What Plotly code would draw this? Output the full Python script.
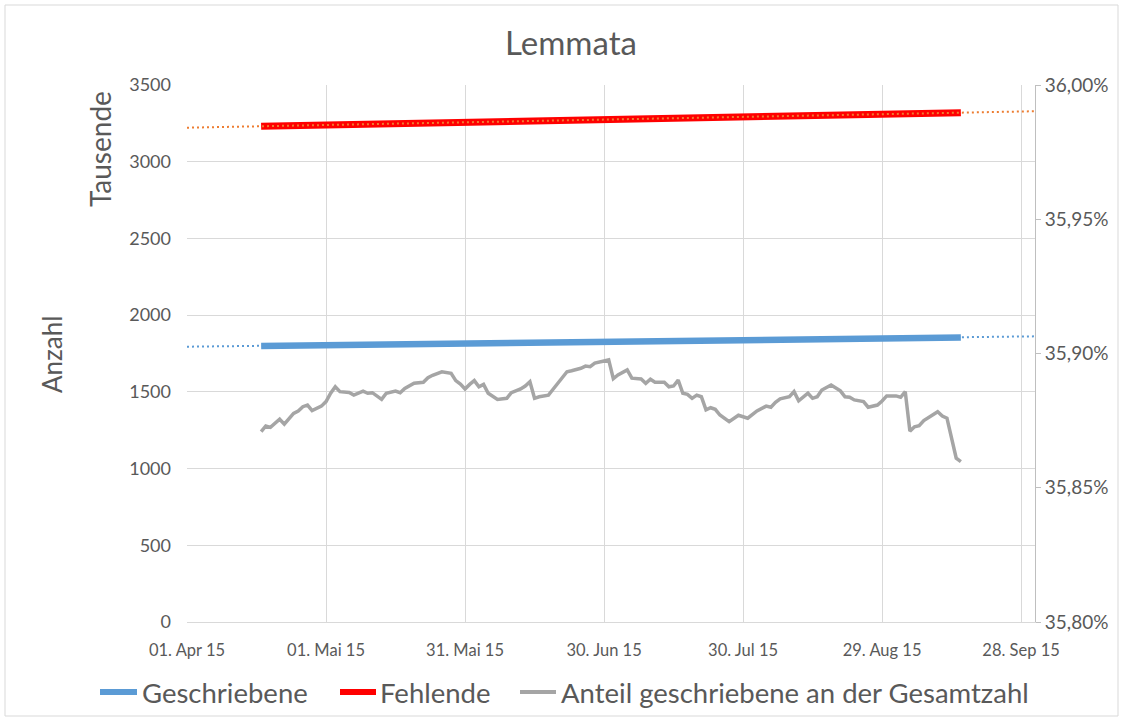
import numpy as np
import pandas as pd
import plotly.graph_objects as go

BASE = "2015-04-01"

# Geschriebene / Fehlende (Anzahl, in Tausend), day offsets from 01 Apr 2015
count_days = [16, 30, 45, 60, 75, 90, 105, 120, 135, 150, 167]
geschriebene = [1799, 1805, 1811, 1817, 1822, 1828, 1834, 1840, 1845, 1849, 1854]
fehlende = [3231, 3239, 3248, 3257, 3266, 3275, 3284, 3292, 3301, 3310, 3319]

# Anteil geschriebene an der Gesamtzahl (%)
anteil_days = [16, 17, 18, 19, 20, 21, 22, 23, 24, 25, 26, 27, 29, 30, 31, 32, 33, 35, 36, 38,
               39, 40, 42, 43, 45, 46, 47, 49, 51, 52, 53, 54, 55, 57, 58, 59, 60, 61, 62, 63,
               64, 65, 66, 67, 69, 70, 72, 73, 74, 75, 76, 78, 79, 80, 82, 83, 85, 86, 87, 88,
               90, 91, 92, 93, 95, 96, 98, 99, 100, 101, 103, 104, 105, 106, 107, 108, 109, 110,
               111, 112, 113, 114, 115, 117, 119, 120, 121, 123, 125, 126, 127, 128, 130, 131,
               132, 134, 135, 136, 137, 139, 140, 141, 142, 143, 144, 146, 147, 149, 150, 151,
               153, 154, 155, 156, 157, 158, 159, 160, 162, 163, 164, 166, 167]
anteil = [35.8709, 35.8730, 35.8725, 35.8742, 35.8755, 35.8737, 35.8759, 35.8777, 35.8786, 35.8802,
          35.8808, 35.8787, 35.8804, 35.8821, 35.8852, 35.8876, 35.8858, 35.8855, 35.8845, 35.8860,
          35.8852, 35.8854, 35.8829, 35.8852, 35.8860, 35.8854, 35.8870, 35.8889, 35.8893, 35.8910,
          35.8919, 35.8926, 35.8932, 35.8926, 35.8899, 35.8886, 35.8868, 35.8885, 35.8899, 35.8876,
          35.8885, 35.8852, 35.8839, 35.8829, 35.8833, 35.8854, 35.8868, 35.8879, 35.8895, 35.8833,
          35.8839, 35.8845, 35.8867, 35.8889, 35.8932, 35.8936, 35.8945, 35.8953, 35.8951, 35.8964,
          35.8972, 35.8976, 35.8906, 35.8920, 35.8939, 35.8908, 35.8905, 35.8889, 35.8904, 35.8893,
          35.8893, 35.8876, 35.8879, 35.8901, 35.8852, 35.8848, 35.8833, 35.8845, 35.8839, 35.8790,
          35.8798, 35.8792, 35.8771, 35.8746, 35.8770, 35.8765, 35.8759, 35.8786, 35.8804, 35.8800,
          35.8818, 35.8831, 35.8839, 35.8858, 35.8824, 35.8852, 35.8833, 35.8839, 35.8864, 35.8883,
          35.8870, 35.8861, 35.8839, 35.8837, 35.8827, 35.8821, 35.8800, 35.8808, 35.8823, 35.8842,
          35.8842, 35.8837, 35.8858, 35.8711, 35.8727, 35.8731, 35.8750, 35.8761, 35.8783, 35.8767,
          35.8759, 35.8610, 35.8597]

x_tick_dates = ["2015-04-01", "2015-05-01", "2015-05-31", "2015-06-30", "2015-07-30", "2015-08-29", "2015-09-28"]
x_tick_labels = ["01. Apr 15", "01. Mai 15", "31. Mai 15", "30. Jun 15", "30. Jul 15", "29. Aug 15", "28. Sep 15"]
y_ticks = [0, 500, 1000, 1500, 2000, 2500, 3000, 3500]
y2_ticks = [35.80, 35.85, 35.90, 35.95, 36.00]
y2_labels = ["35,80%", "35,85%", "35,90%", "35,95%", "36,00%"]
x_range = ["2015-04-01", "2015-10-01"]
legend_names = ["Geschriebene", "Fehlende", "Anteil geschriebene an der Gesamtzahl"]

base = pd.Timestamp(BASE)
to_dates = lambda d: base + pd.to_timedelta(np.array(d), unit="D")
cd = to_dates(count_days)
ad = to_dates(anteil_days)

rng_days = np.array([(pd.Timestamp(x_range[0]) - base).days, (pd.Timestamp(x_range[1]) - base).days])
def trend(vals):
    k, b = np.polyfit(count_days, vals, 1)
    return k * rng_days + b

BLUE = "#5B9BD5"
RED = "#FF0000"
GRAY = "#A5A5A5"
ORANGE = "#ED7D31"
TXT = "#595959"
FONT = "Lato"

fig = go.Figure()
fig.add_trace(go.Scatter(x=cd, y=geschriebene, mode="lines", name=legend_names[0],
                         line=dict(color=BLUE, width=6.5)))
fig.add_trace(go.Scatter(x=cd, y=fehlende, mode="lines", name=legend_names[1],
                         line=dict(color=RED, width=7)))
fig.add_trace(go.Scatter(x=ad, y=anteil, mode="lines", name=legend_names[2],
                         line=dict(color=GRAY, width=3.5), yaxis="y2"))
rd = to_dates(rng_days)
fig.add_trace(go.Scatter(x=rd, y=trend(geschriebene), mode="lines",
                         line=dict(color=BLUE, width=2, dash="2px,3px"), hoverinfo="skip"))
fig.add_trace(go.Scatter(x=rd, y=trend(fehlende), mode="lines",
                         line=dict(color=ORANGE, width=2, dash="2px,3px"), hoverinfo="skip"))

L, R, T, B = 187, 88, 85, 100
W, H = 1123, 722
pw, ph = W - L - R, H - T - B
px = lambda v: (v - L) / pw
py = lambda v: (H - B - v) / ph

fig.update_layout(
    width=W, height=H,
    margin=dict(l=L, r=R, t=T, b=B, autoexpand=False),
    paper_bgcolor="white", plot_bgcolor="white",
    font=dict(family=FONT, color=TXT, size=16),
    showlegend=False,
    xaxis=dict(type="date", range=x_range, tickvals=x_tick_dates, ticktext=x_tick_labels,
               showgrid=True, gridcolor="#D9D9D9", gridwidth=1, zeroline=False,
               showline=True, linecolor="#D9D9D9", ticks="", ticklabelstandoff=13,
               tickfont=dict(size=16.5, color=TXT)),
    yaxis=dict(range=[0, 3500], tickvals=y_ticks, showgrid=True, gridcolor="#D9D9D9",
               zeroline=False, showline=False, ticks="", ticklabelstandoff=15,
               tickfont=dict(size=18, color=TXT)),
    yaxis2=dict(range=[35.80, 36.00], overlaying="y", side="right", tickvals=y2_ticks,
                ticktext=y2_labels, showgrid=False, zeroline=False, showline=True,
                linecolor="#BFBFBF", ticks="outside", ticklen=5, tickcolor="#BFBFBF",
                tickfont=dict(size=19, color=TXT)),
    hovermode=False,
)

fig.add_annotation(text="Lemmata", xref="paper", yref="paper", x=px(571), y=py(42),
                   showarrow=False, font=dict(size=33, color=TXT),
                   xanchor="center", yanchor="middle")
fig.add_annotation(text="Anzahl", xref="paper", yref="paper", x=px(52), y=py(355),
                   showarrow=False, textangle=-90, font=dict(size=26, color=TXT),
                   xanchor="center", yanchor="middle")
fig.add_annotation(text="Tausende", xref="paper", yref="paper", x=px(100), y=py(149),
                   showarrow=False, textangle=-90, font=dict(size=28, color=TXT),
                   xanchor="center", yanchor="middle")

# legend drawn manually (line sample + label)
leg_y = 692
leg_items = [(100, 137, 140, BLUE, 6), (340, 376, 378, RED, 6), (520, 556, 559, GRAY, 4)]
for (x0, x1, xt, col, w), name in zip(leg_items, legend_names):
    fig.add_shape(type="line", xref="paper", yref="paper", x0=px(x0), x1=px(x1),
                  y0=py(leg_y), y1=py(leg_y), line=dict(color=col, width=w))
    fig.add_annotation(text=name, xref="paper", yref="paper", x=px(xt), y=py(leg_y),
                       showarrow=False, xanchor="left", yanchor="middle",
                       font=dict(size=27.5, color=TXT))

fig.add_shape(type="rect", xref="paper", yref="paper",
              x0=px(5), x1=px(1118), y0=py(716), y1=py(5),
              line=dict(color="#D9D9D9", width=1), fillcolor="rgba(0,0,0,0)", layer="below")

fig.write_html("out.html", config={"displayModeBar": False},
               post_script="document.body.style.margin='0';")
